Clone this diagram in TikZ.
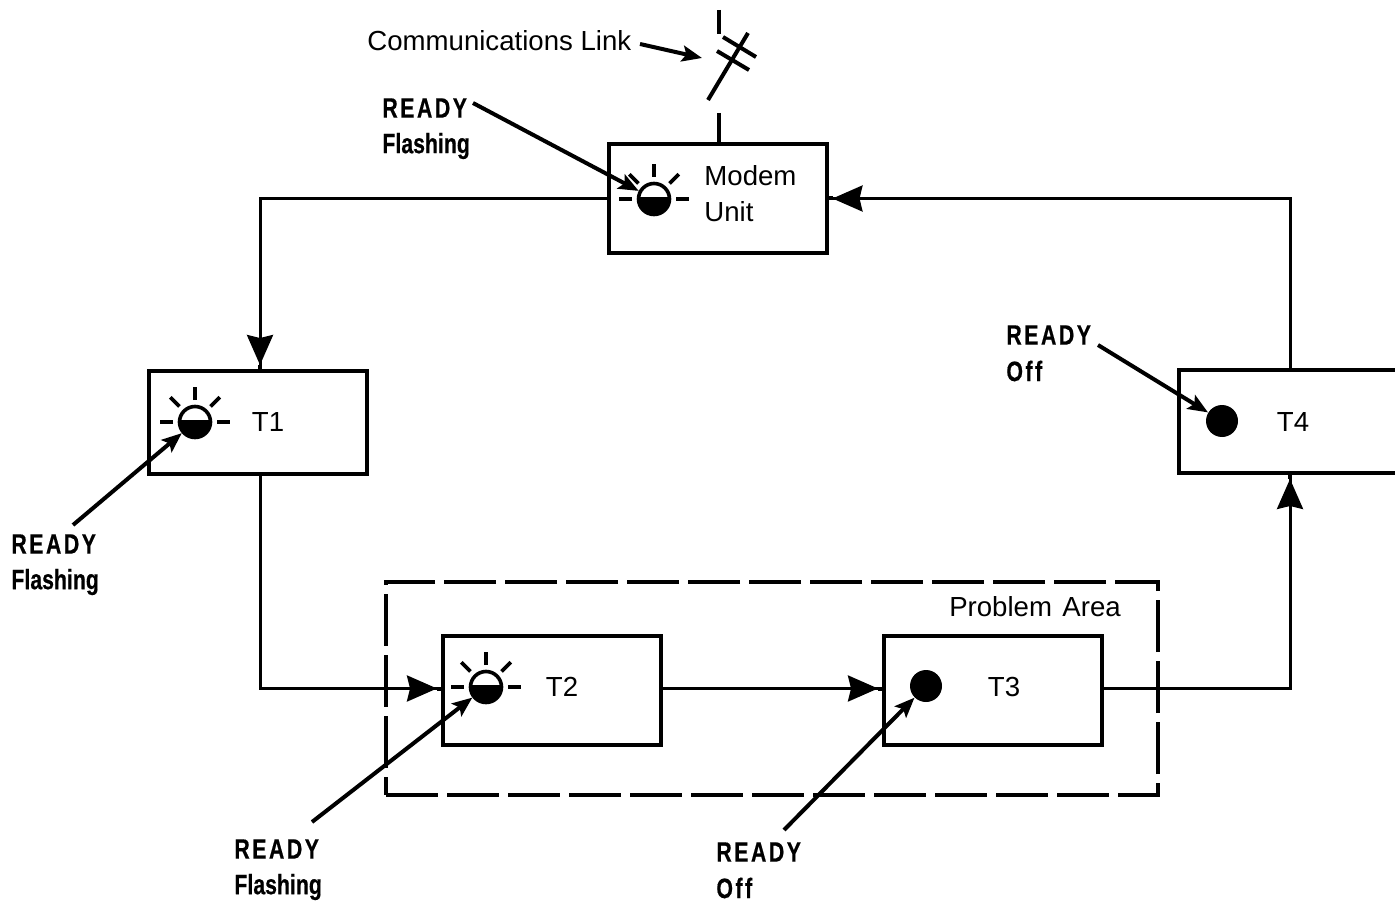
\documentclass[tikz,border=0pt]{standalone}
\usepackage{fontspec}
\usetikzlibrary{arrows.meta}
\setmainfont{Liberation Sans}
\newfontfamily\statefont[FakeStretch=0.76,FakeBold=0.5]{Liberation Sans Bold}
\newfontfamily\readyfont[FakeStretch=0.76,FakeBold=0.5,LetterSpace=9]{Liberation Sans Bold}
\newcommand{\lamprays}[1]{%
    \foreach \a in {0,45,90,135,180}
        \draw [ray] ([shift={(\a:11pt)}]#1.center) -- ([shift={(\a:17.5pt)}]#1.center);
}
\begin{document}
\begin{tikzpicture}[
    x=0.5pt, y=-0.5pt,
    unit/.style={rectangle, draw, line width=2pt, minimum width=109pt, minimum height=54.5pt, inner sep=0pt},
    shortunit/.style={unit, minimum height=51.5pt},
    area/.style={rectangle, draw, line width=2pt, dash pattern=on 26pt off 4.5pt, minimum width=386pt, minimum height=106.5pt},
    tag/.style={font=\fontsize{13.8}{18}\selectfont, align=center, inner sep=0pt},
    state/.style={font=\fontsize{14}{18}\selectfont, align=left, anchor=west, inner sep=0pt},
    flow/.style={draw, line width=1.5pt, -{Stealth[length=15pt, width=13pt, inset=1.5pt, sep=0pt]Rectangle[length=2pt, width=2pt]}},
    plain/.style={draw, line width=1.5pt},
    pointer/.style={draw, line width=2pt, -{Stealth[length=10pt, width=8pt, inset=2pt]}},
    ray/.style={draw, line width=1.9pt},
    link/.style={draw, line width=2pt},
    flashing/.style={circle, draw, line width=1.8pt, minimum size=15.5pt, inner sep=0pt,
        path picture={\fill (path picture bounding box.west) ++(0,1pt) rectangle (path picture bounding box.south east);}},
    lampoff/.style={circle, fill, minimum size=16pt, inner sep=0pt}
]
    \clip (0,0) rectangle (1395,903);
    \fill [white] (0,0) rectangle (1395,903);

    \node [area] (problem) at (772,688.5) {};
    \node [tag] (problemname) at (1035,607) {Problem\hspace{0.1em} Area};

    \node [unit] (modem) at (717.5,198.5) {};
    \node [shortunit] (t1) at (258,422.5) {};
    \node [unit] (t2) at (552,690.5) {};
    \node [unit] (t3) at (993,690.5) {};
    \node [shortunit, minimum width=111pt] (t4) at (1290,421.5) {};

    \node [tag, anchor=west, align=left] (modemname) at (704,193.5) {Modem\\Unit};
    \node [tag] (t1name) at (268,422) {T1};
    \node [tag] (t2name) at (562,687) {T2};
    \node [tag] (t3name) at (1004,687) {T3};
    \node [tag] (t4name) at (1293,422) {T4};

    \node [flashing] (lampm) at (654,199) {};
    \node [flashing] (lamp1) at (195,422) {};
    \node [flashing] (lamp2) at (486,687) {};
    \node [lampoff] (lamp3) at (926,686) {};
    \node [lampoff] (lamp4) at (1222,421) {};
    \lamprays{lampm}
    \lamprays{lamp1}
    \lamprays{lamp2}

    \coordinate (t1top) at ([xshift=1pt]t1.north);
    \coordinate (t1bottom) at ([xshift=1pt]t1.south);
    \coordinate (t2in) at ([yshift=1pt]t2.west);
    \coordinate (t2out) at ([yshift=1pt]t2.east);
    \coordinate (t3in) at ([yshift=1pt]t3.west);
    \coordinate (t3out) at ([yshift=1pt]t3.east);

    \draw [flow] (modem.west) -| (t1top);
    \draw [plain] (t1bottom) -- ++(0,107) coordinate (t1bend);
    \draw [flow] (t1bend) |- (t2in);
    \draw [flow] (t2out) -- (t3in);
    \draw [flow] (t3out) -| (t4.south);
    \draw [flow] (t4.north) |- (modem.east);

    \coordinate (linktop) at (719,10);
    \coordinate (linkopen) at (719,34);
    \coordinate (armstart) at (708,100);
    \coordinate (armend) at (748,33);
    \coordinate (tickaleft) at (723,37);
    \coordinate (tickaright) at (756,57);
    \coordinate (tickbleft) at (717,51);
    \coordinate (tickbright) at (749,70);
    \coordinate (stubtop) at (719,113);
    \draw [link] (linktop) -- (linkopen);
    \draw [link] (armstart) -- (armend);
    \draw [link] (tickaleft) -- (tickaright);
    \draw [link] (tickbleft) -- (tickbright);
    \draw [link] (stubtop) -- (stubtop |- modem.north);

    \node [tag, anchor=west] (linkname) at (367,41) {Communications Link};
    \coordinate (linkfrom) at (640,44);
    \coordinate (linkto) at (702,58);
    \draw [pointer] (linkfrom) -- (linkto);

    \node [state] (readym) at (382,108) {\readyfont READY};
    \node [state] (flashm) at (382,146) {\statefont Flashing};
    \node [state] (ready1) at (11,544) {\readyfont READY};
    \node [state] (flash1) at (11,582) {\statefont Flashing};
    \node [state] (ready2) at (234,849) {\readyfont READY};
    \node [state] (flash2) at (234,887) {\statefont Flashing};
    \node [state] (ready3) at (716,852) {\readyfont READY};
    \node [state] (off3) at (716,888) {\readyfont Off};
    \node [state] (ready4) at (1006,335) {\readyfont READY};
    \node [state] (off4) at (1006,371) {\readyfont Off};

    \coordinate (fromm) at (473,103);
    \coordinate (from1) at (73,525);
    \coordinate (from2) at (312,822);
    \coordinate (from3) at (784,830);
    \coordinate (from4) at (1098,345);
    \draw [pointer] (fromm) -- (lampm);
    \draw [pointer] (from1) -- (lamp1);
    \draw [pointer] (from2) -- (lamp2);
    \draw [pointer] (from3) -- (lamp3);
    \draw [pointer] (from4) -- (lamp4);
\end{tikzpicture}
\end{document}
